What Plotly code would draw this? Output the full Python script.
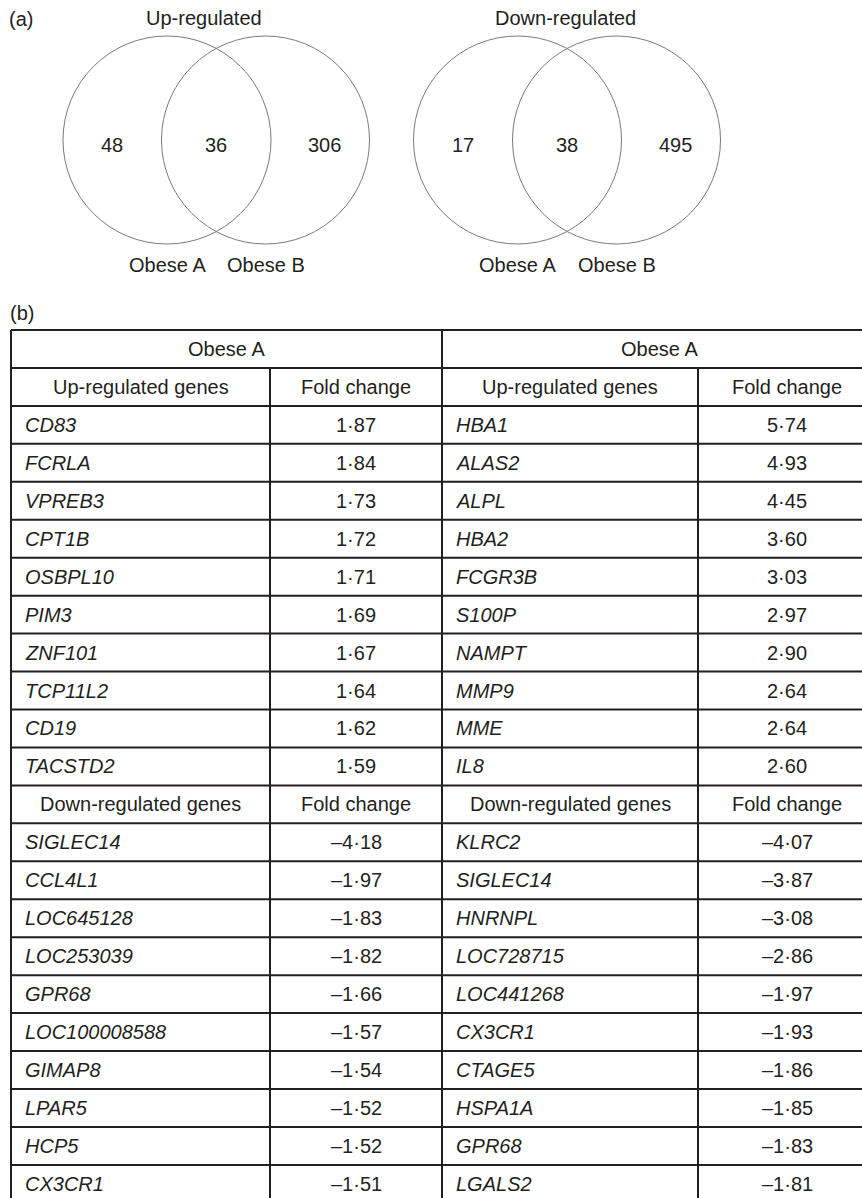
import plotly.graph_objects as go

# ---------------- data ----------------
panel_labels = ["(a)", "(b)"]
venn_titles = ["Up-regulated", "Down-regulated"]
venn_set_labels = ["Obese A", "Obese B"]
venn_up_counts = [48, 36, 306]      # A only, A & B, B only
venn_down_counts = [17, 38, 495]

group_headers = ["Obese A", "Obese A"]
up_header = ["Up-regulated genes", "Fold change"]
down_header = ["Down-regulated genes", "Fold change"]

up_a_genes = ["CD83", "FCRLA", "VPREB3", "CPT1B", "OSBPL10", "PIM3", "ZNF101",
              "TCP11L2", "CD19", "TACSTD2"]
up_a_fc = [1.87, 1.84, 1.73, 1.72, 1.71, 1.69, 1.67, 1.64, 1.62, 1.59]
up_b_genes = ["HBA1", "ALAS2", "ALPL", "HBA2", "FCGR3B", "S100P", "NAMPT",
              "MMP9", "MME", "IL8"]
up_b_fc = [5.74, 4.93, 4.45, 3.60, 3.03, 2.97, 2.90, 2.64, 2.64, 2.60]

down_a_genes = ["SIGLEC14", "CCL4L1", "LOC645128", "LOC253039", "GPR68",
                "LOC100008588", "GIMAP8", "LPAR5", "HCP5", "CX3CR1"]
down_a_fc = [-4.18, -1.97, -1.83, -1.82, -1.66, -1.57, -1.54, -1.52, -1.52, -1.51]
down_b_genes = ["KLRC2", "SIGLEC14", "HNRNPL", "LOC728715", "LOC441268",
                "CX3CR1", "CTAGE5", "HSPA1A", "GPR68", "LGALS2"]
down_b_fc = [-4.07, -3.87, -3.08, -2.86, -1.97, -1.93, -1.86, -1.85, -1.83, -1.81]

# ---------------- layout constants ----------------
W, H = 862, 1198
FONT = "Liberation Sans, Arial, Helvetica, sans-serif"
TXT = "#231f20"
FS = 20

# Venn geometry
venn_centers = [(167, 265.5), (517.5, 616.5)]
venn_cy = 140
venn_r = 104
venn_title_x = [204, 565]
venn_title_y = 18
venn_count_y = 145
venn_label_y = 265
venn_left_off = -55
venn_right_off = 59

# Table geometry
tab_left, tab_right = 11, 876
col_splits = [270, 442, 698]
tab_top = 330
row_h = 37.95
gene_pad = 14

annotations = []
shapes = []


def txt(x, y, s, xanchor="center", size=FS):
    annotations.append(dict(
        x=x, y=y, xref="x", yref="y", text=s, showarrow=False,
        xanchor=xanchor, yanchor="middle", borderpad=0, borderwidth=0,
        font=dict(family=FONT, size=size, color=TXT)))


def fmt(v):
    s = f"{abs(v):.2f}".replace(".", "\u00b7")
    return ("\u2013" + s) if v < 0 else s


# ---------------- (a) Venn diagrams ----------------
txt(9, venn_title_y + 1, panel_labels[0], xanchor="left")
for k, counts in enumerate([venn_up_counts, venn_down_counts]):
    ca, cb = venn_centers[k]
    for c in (ca, cb):
        shapes.append(dict(type="circle", xref="x", yref="y",
                           x0=c - venn_r, x1=c + venn_r,
                           y0=venn_cy - venn_r, y1=venn_cy + venn_r,
                           line=dict(color="#7a7a7a", width=1)))
    txt(venn_title_x[k], venn_title_y, venn_titles[k])
    xs = [ca + venn_left_off, (ca + cb) / 2, cb + venn_right_off]
    for xv, n in zip(xs, counts):
        txt(xv, venn_count_y, str(n))
    txt(ca, venn_label_y, venn_set_labels[0])
    txt(cb, venn_label_y, venn_set_labels[1])

# ---------------- (b) table ----------------
txt(10, 313, panel_labels[1], xanchor="left")

rows = []  # each: ("group",) / ("header", labels) / ("data", geneA, fcA, geneB, fcB)
rows.append(("group", group_headers))
rows.append(("header", up_header))
for ga, fa, gb, fb in zip(up_a_genes, up_a_fc, up_b_genes, up_b_fc):
    rows.append(("data", ga, fa, gb, fb))
rows.append(("header", down_header))
for ga, fa, gb, fb in zip(down_a_genes, down_a_fc, down_b_genes, down_b_fc):
    rows.append(("data", ga, fa, gb, fb))

n_rows = len(rows)
tab_bottom = tab_top + n_rows * row_h
line_style = dict(color="#231f20", width=2)

for i in range(n_rows + 1):
    y = tab_top + i * row_h
    shapes.append(dict(type="line", xref="x", yref="y", x0=tab_left, x1=tab_right,
                       y0=y, y1=y, line=line_style))
for x in (tab_left, col_splits[1], tab_right):
    shapes.append(dict(type="line", xref="x", yref="y", x0=x, x1=x,
                       y0=tab_top, y1=tab_bottom, line=line_style))
for x in (col_splits[0], col_splits[2]):
    shapes.append(dict(type="line", xref="x", yref="y", x0=x, x1=x,
                       y0=tab_top + row_h, y1=tab_bottom, line=line_style))

edges = [tab_left] + col_splits + [tab_right]
col_centers = [(edges[j] + edges[j + 1]) / 2 for j in range(4)]
half_centers = [(tab_left + col_splits[1]) / 2, (col_splits[1] + tab_right) / 2]

for i, row in enumerate(rows):
    yc = tab_top + (i + 0.5) * row_h
    if row[0] == "group":
        for hc, lab in zip(half_centers, row[1]):
            txt(hc, yc, lab)
    elif row[0] == "header":
        for j in range(4):
            txt(col_centers[j], yc, row[1][j % 2])
    else:
        _, ga, fa, gb, fb = row
        txt(edges[0] + gene_pad, yc, f"<i>{ga}</i>", xanchor="left")
        txt(col_centers[1], yc, fmt(fa))
        txt(edges[2] + gene_pad, yc, f"<i>{gb}</i>", xanchor="left")
        txt(col_centers[3], yc, fmt(fb))

fig = go.Figure()
fig.add_trace(go.Scatter(x=[0, W], y=[0, H], mode="markers",
                         marker=dict(opacity=0), hoverinfo="skip", showlegend=False))
fig.update_layout(
    width=W, height=H, autosize=False,
    margin=dict(l=0, r=0, t=0, b=0, pad=0),
    paper_bgcolor="white", plot_bgcolor="white",
    xaxis=dict(range=[0, W], visible=False, fixedrange=True),
    yaxis=dict(range=[H, 0], visible=False, fixedrange=True),
    shapes=shapes, annotations=annotations, showlegend=False,
)
fig.write_html("out.html", config={"displayModeBar": False, "staticPlot": True},
               post_script="document.body.style.margin='0';document.body.style.padding='0';document.body.style.overflow='hidden';")
